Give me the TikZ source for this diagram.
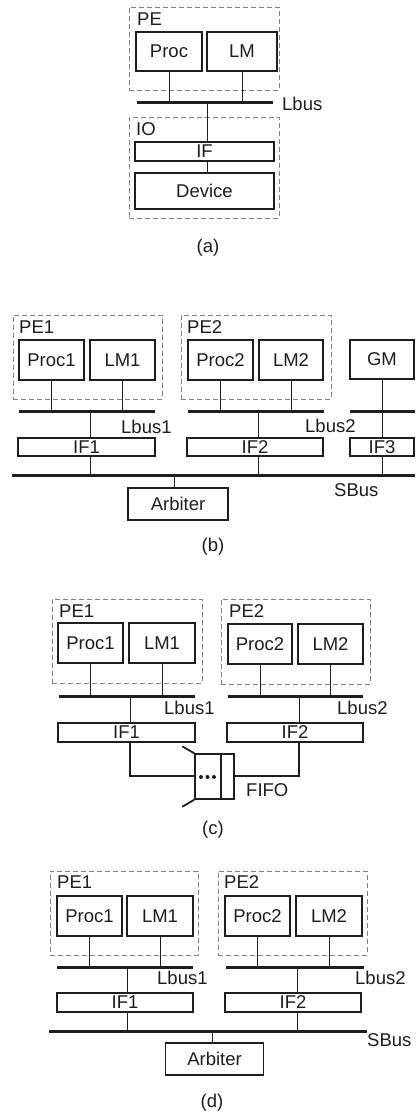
\documentclass[tikz,border=0pt]{standalone}
\usepackage{fontspec}
\newfontfamily\figfam{Liberation Sans}
\newcommand\figfont{\figfam\fontsize{18.5}{20}\selectfont}
\definecolor{ink}{HTML}{1E1E1E}
\definecolor{dashgray}{HTML}{808080}
\tikzset{
  box/.style={draw=ink, line width=1.5pt, inner sep=0pt, font=\figfont, text=ink},
  grp/.style={draw=dashgray, dash pattern=on 5pt off 3pt, line width=0.9pt, inner sep=0pt},
  bus/.style={draw=ink, line width=3pt},
  wire/.style={draw=ink, line width=1pt},
  heavy/.style={draw=ink, line width=1.8pt},
  lab/.style={inner sep=0pt, anchor=west, font=\figfont, text=ink},
  captext/.style={inner sep=0pt, font=\figfont, text=ink}
}
\begin{document}
\begin{tikzpicture}[x=1pt,y=-1pt]
\useasboundingbox[fill=white] (0,0) rectangle (415,1118);

% ================= (a) =================
\node[grp, minimum width=150, minimum height=83] (peA) at (204,48.5) {};
\node[lab] (peAl) at (137,19) {PE};
\node[box, minimum width=66, minimum height=39] (procA) at (169,51.5) {Proc};
\node[box, minimum width=70, minimum height=39] (lmA) at (242,51.5) {LM};
\coordinate (lbusAl) at (137,103);
\coordinate (lbusAr) at (273,103);
\draw[bus] (lbusAl) -- (lbusAr);
\node[lab] (lbusAlab) at (282,104) {Lbus};
\node[grp, minimum width=150, minimum height=101] (ioA) at (204,167.5) {};
\node[lab] (ioAl) at (136,129) {IO};
\node[box, minimum width=139, minimum height=19] (ifA) at (204.5,151.5) {IF};
\node[box, minimum width=139, minimum height=36] (devA) at (204.5,191) {Device};
\draw[wire] (procA.south) -- (procA.south |- lbusAl);
\draw[wire] (lmA.south) -- (lmA.south |- lbusAl);
\coordinate (tapA) at (207,103);
\draw[wire] (tapA) -- (tapA |- ifA.north);
\draw[wire] (tapA |- ifA.south) -- (tapA |- devA.north);
\node[captext] (capA) at (208,248) {(a)};

% ================= (b) =================
\node[grp, minimum width=149, minimum height=84] (pe1B) at (87.5,357) {};
\node[lab] (pe1Bl) at (19,327) {PE1};
\node[box, minimum width=65, minimum height=40] (proc1B) at (51.5,360) {Proc1};
\node[box, minimum width=65, minimum height=40] (lm1B) at (122.5,360) {LM1};
\coordinate (lbus1Bl) at (19,411);
\coordinate (lbus1Br) at (155,411);
\draw[bus] (lbus1Bl) -- (lbus1Br);
\node[lab] (lbus1Blab) at (121,427) {Lbus1};
\node[box, minimum width=137, minimum height=18] (if1B) at (86.5,447) {IF1};

\node[grp, minimum width=150, minimum height=84] (pe2B) at (256,357) {};
\node[lab] (pe2Bl) at (187,327) {PE2};
\node[box, minimum width=65, minimum height=40] (proc2B) at (220.5,360) {Proc2};
\node[box, minimum width=64, minimum height=40] (lm2B) at (291,360) {LM2};
\coordinate (lbus2Bl) at (188,411);
\coordinate (lbus2Br) at (324,411);
\draw[bus] (lbus2Bl) -- (lbus2Br);
\node[lab] (lbus2Blab) at (305,426) {Lbus2};
\node[box, minimum width=136, minimum height=18] (if2B) at (255,447) {IF2};

\node[box, minimum width=64, minimum height=39] (gmB) at (382,359.5) {GM};
\coordinate (lbus3Bl) at (350,411);
\coordinate (lbus3Br) at (415,411);
\draw[bus] (lbus3Bl) -- (lbus3Br);
\node[box, minimum width=64, minimum height=18] (if3B) at (382,447) {IF3};

\coordinate (sbusBl) at (12,475);
\coordinate (sbusBr) at (415,475);
\draw[bus] (sbusBl) -- (sbusBr);
\node[lab] (sbusBlab) at (334,490) {SBus};
\node[box, minimum width=100, minimum height=32] (arbB) at (178,504) {Arbiter};

\draw[wire] (proc1B.south) -- (proc1B.south |- lbus1Bl);
\draw[wire] (lm1B.south) -- (lm1B.south |- lbus1Bl);
\coordinate (tap1B) at (90,411);
\draw[wire] (tap1B) -- (tap1B |- if1B.north);
\draw[wire] (tap1B |- if1B.south) -- (tap1B |- sbusBl);
\draw[wire] (proc2B.south) -- (proc2B.south |- lbus2Bl);
\draw[wire] (lm2B.south) -- (lm2B.south |- lbus2Bl);
\coordinate (tap2B) at (258,411);
\draw[wire] (tap2B) -- (tap2B |- if2B.north);
\draw[wire] (tap2B |- if2B.south) -- (tap2B |- sbusBl);
\draw[wire] (gmB.south) -- (if3B.north);
\draw[wire] (if3B.south) -- (if3B.south |- sbusBl);
\coordinate (tapArbB) at (174,475);
\draw[wire] (tapArbB) -- (tapArbB |- arbB.north);
\node[captext] (capB) at (213,547) {(b)};

% ================= (c) =================
\node[grp, minimum width=150, minimum height=84] (pe1C) at (127,641) {};
\node[lab] (pe1Cl) at (59,611) {PE1};
\node[box, minimum width=65, minimum height=40] (proc1C) at (90.5,643) {Proc1};
\node[box, minimum width=66, minimum height=40] (lm1C) at (162,643) {LM1};
\coordinate (lbus1Cl) at (59,696);
\coordinate (lbus1Cr) at (195,696);
\draw[bus] (lbus1Cl) -- (lbus1Cr);
\node[lab] (lbus1Clab) at (164,708) {Lbus1};
\node[box, minimum width=137, minimum height=19] (if1C) at (126.5,732.5) {IF1};

\node[grp, minimum width=149, minimum height=85] (pe2C) at (295.5,641.5) {};
\node[lab] (pe2Cl) at (229,611) {PE2};
\node[box, minimum width=64, minimum height=40] (proc2C) at (260,644) {Proc2};
\node[box, minimum width=65, minimum height=40] (lm2C) at (330.5,644) {LM2};
\coordinate (lbus2Cl) at (228,696);
\coordinate (lbus2Cr) at (363,696);
\draw[bus] (lbus2Cl) -- (lbus2Cr);
\node[lab] (lbus2Clab) at (337,708) {Lbus2};
\node[box, minimum width=136, minimum height=19] (if2C) at (295,732.5) {IF2};

\draw[wire] (proc1C.south) -- (proc1C.south |- lbus1Cl);
\draw[wire] (lm1C.south) -- (lm1C.south |- lbus1Cl);
\coordinate (tap1C) at (130,696);
\draw[wire] (tap1C) -- (tap1C |- if1C.north);
\draw[wire] (proc2C.south) -- (proc2C.south |- lbus2Cl);
\draw[wire] (lm2C.south) -- (lm2C.south |- lbus2Cl);
\coordinate (tap2C) at (299,696);
\draw[wire] (tap2C) -- (tap2C |- if2C.north);

\node[box, minimum width=39, minimum height=45] (fifo) at (214.5,776.5) {};
\draw[heavy] (221,754) -- (221,799);
\fill[ink] (201,777) circle (2) (207.5,777) circle (2) (214,777) circle (2);
\draw[heavy] (fifo.north west) -- ++(-12,-7);
\draw[heavy] (fifo.south west) -- ++(-12,7);
\draw[heavy] (tap1C |- if1C.south) -- (130,776) -- (fifo.west |- 0,776);
\draw[heavy] (tap2C |- if2C.south) -- (299,776) -- (fifo.east |- 0,776);
\node[lab] (fifolab) at (246,790) {FIFO};
\node[captext] (capC) at (213,830) {(c)};

% ================= (d) =================
\node[grp, minimum width=148, minimum height=84] (pe1D) at (124,913) {};
\node[lab] (pe1Dl) at (57,882) {PE1};
\node[box, minimum width=65, minimum height=40] (proc1D) at (89.5,916) {Proc1};
\node[box, minimum width=66, minimum height=40] (lm1D) at (160,916) {LM1};
\coordinate (lbus1Dl) at (57,967);
\coordinate (lbus1Dr) at (193,967);
\draw[bus] (lbus1Dl) -- (lbus1Dr);
\node[lab] (lbus1Dlab) at (157,978) {Lbus1};
\node[box, minimum width=136, minimum height=19] (if1D) at (125,1002.5) {IF1};

\node[grp, minimum width=149, minimum height=84] (pe2D) at (292.5,913) {};
\node[lab] (pe2Dl) at (224,882) {PE2};
\node[box, minimum width=65, minimum height=40] (proc2D) at (257.5,916) {Proc2};
\node[box, minimum width=66, minimum height=40] (lm2D) at (329,916) {LM2};
\coordinate (lbus2Dl) at (226,967);
\coordinate (lbus2Dr) at (364,967);
\draw[bus] (lbus2Dl) -- (lbus2Dr);
\node[lab] (lbus2Dlab) at (355,978) {Lbus2};
\node[box, minimum width=136, minimum height=19] (if2D) at (293,1002.5) {IF2};

\coordinate (sbusDl) at (49,1031);
\coordinate (sbusDr) at (367,1031);
\draw[bus] (sbusDl) -- (sbusDr);
\node[lab] (sbusDlab) at (367,1040) {SBus};
\node[box, minimum width=98, minimum height=32] (arbD) at (214.5,1059) {Arbiter};

\draw[wire] (proc1D.south) -- (proc1D.south |- lbus1Dl);
\draw[wire] (lm1D.south) -- (lm1D.south |- lbus1Dl);
\coordinate (tap1D) at (127,967);
\draw[wire] (tap1D) -- (tap1D |- if1D.north);
\draw[wire] (tap1D |- if1D.south) -- (tap1D |- sbusDl);
\draw[wire] (proc2D.south) -- (proc2D.south |- lbus2Dl);
\draw[wire] (lm2D.south) -- (lm2D.south |- lbus2Dl);
\coordinate (tap2D) at (297,967);
\draw[wire] (tap2D) -- (tap2D |- if2D.north);
\draw[wire] (tap2D |- if2D.south) -- (tap2D |- sbusDl);
\coordinate (tapArbD) at (212,1031);
\draw[wire] (tapArbD) -- (tapArbD |- arbD.north);
\node[captext] (capD) at (212,1103) {(d)};
\end{tikzpicture}
\end{document}
